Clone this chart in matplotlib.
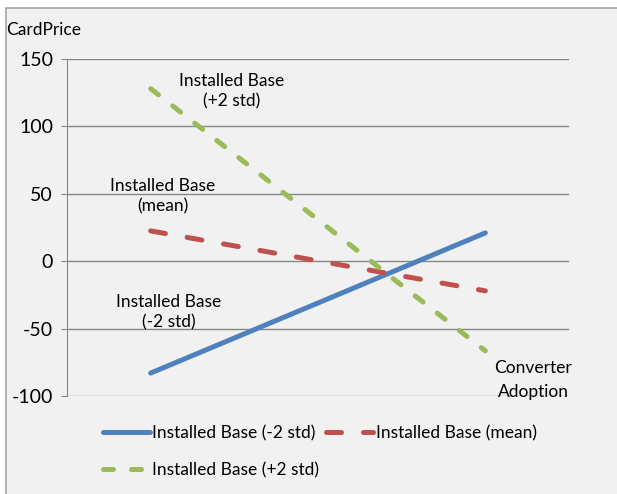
import matplotlib
matplotlib.use("Agg")
import matplotlib.pyplot as plt
from matplotlib.patches import Rectangle

# Data
x_positions = [0, 1]
series_names = ["Installed Base (-2 std)", "Installed Base (mean)", "Installed Base (+2 std)"]
low_std = [-83, 21]
mean_vals = [22.5, -22]
high_std = [128, -66.5]
y_ticks = [-100, -50, 0, 50, 100, 150]

plt.rcParams['font.family'] = ['Lato', 'DejaVu Sans']

fig = plt.figure(figsize=(6.17, 4.94), dpi=100, facecolor='white')
fig.patches.append(Rectangle((6/617, -0.01), 1.0, 1 - 8/494 + 0.01, transform=fig.transFigure,
                             facecolor='#f1f1f1', edgecolor='#a6a6a6', linewidth=1.2, zorder=-10))

ax = fig.add_axes([67/617, 1 - 396/494, (569 - 67)/617, (396 - 59)/494])
ax.set_facecolor('none')

lw = 3.6
l1, = ax.plot(x_positions, low_std, color='#4f81bd', lw=lw, solid_capstyle='round')
l2, = ax.plot(x_positions, mean_vals, color='#c0504d', lw=lw, dash_capstyle='round', dashes=(3.0, 4.4))
l3, = ax.plot(x_positions, high_std, color='#9bbb59', lw=lw, dash_capstyle='round', dashes=(2.0, 3.6))

ax.set_xlim(-0.25, 1.25)
ax.set_ylim(-100, 150)
ax.set_yticks(y_ticks)
ax.set_yticklabels([str(v) for v in y_ticks], fontsize=14)
ax.set_xticks([])
ax.grid(axis='y', color='#868686', lw=1)
ax.set_axisbelow(True)
for s in ['top', 'right', 'bottom']:
    ax.spines[s].set_visible(False)
ax.spines['left'].set_color('#868686')
ax.tick_params(axis='y', length=4, color='#868686', pad=6)

fs = 12.5
fig.text(44/617, 1 - 30/494, "CardPrice", fontsize=fs, ha='center', va='center')
fig.text(232/617, 1 - 91/494, "Installed Base\n(+2 std)", fontsize=fs, ha='center', va='center', linespacing=1.35)
fig.text(163/617, 1 - 196/494, "Installed Base\n(mean)", fontsize=fs, ha='center', va='center', linespacing=1.35)
fig.text(169/617, 1 - 312/494, "Installed Base\n(-2 std)", fontsize=fs, ha='center', va='center', linespacing=1.35)
fig.text(533/617, 1 - 380/494, "Converter\nAdoption", fontsize=fs, ha='center', va='center', linespacing=1.6)

leg = fig.legend([l1, l3, l2], [series_names[0], series_names[2], series_names[1]],
                 ncol=2, loc='upper left', bbox_to_anchor=(103/617, 1 - 425/494),
                 frameon=False, fontsize=fs, handlelength=2.7, handletextpad=0.15,
                 columnspacing=0.4, labelspacing=1.2, borderpad=0, borderaxespad=0)

fig.savefig("out.png", dpi=100, facecolor=fig.get_facecolor())
